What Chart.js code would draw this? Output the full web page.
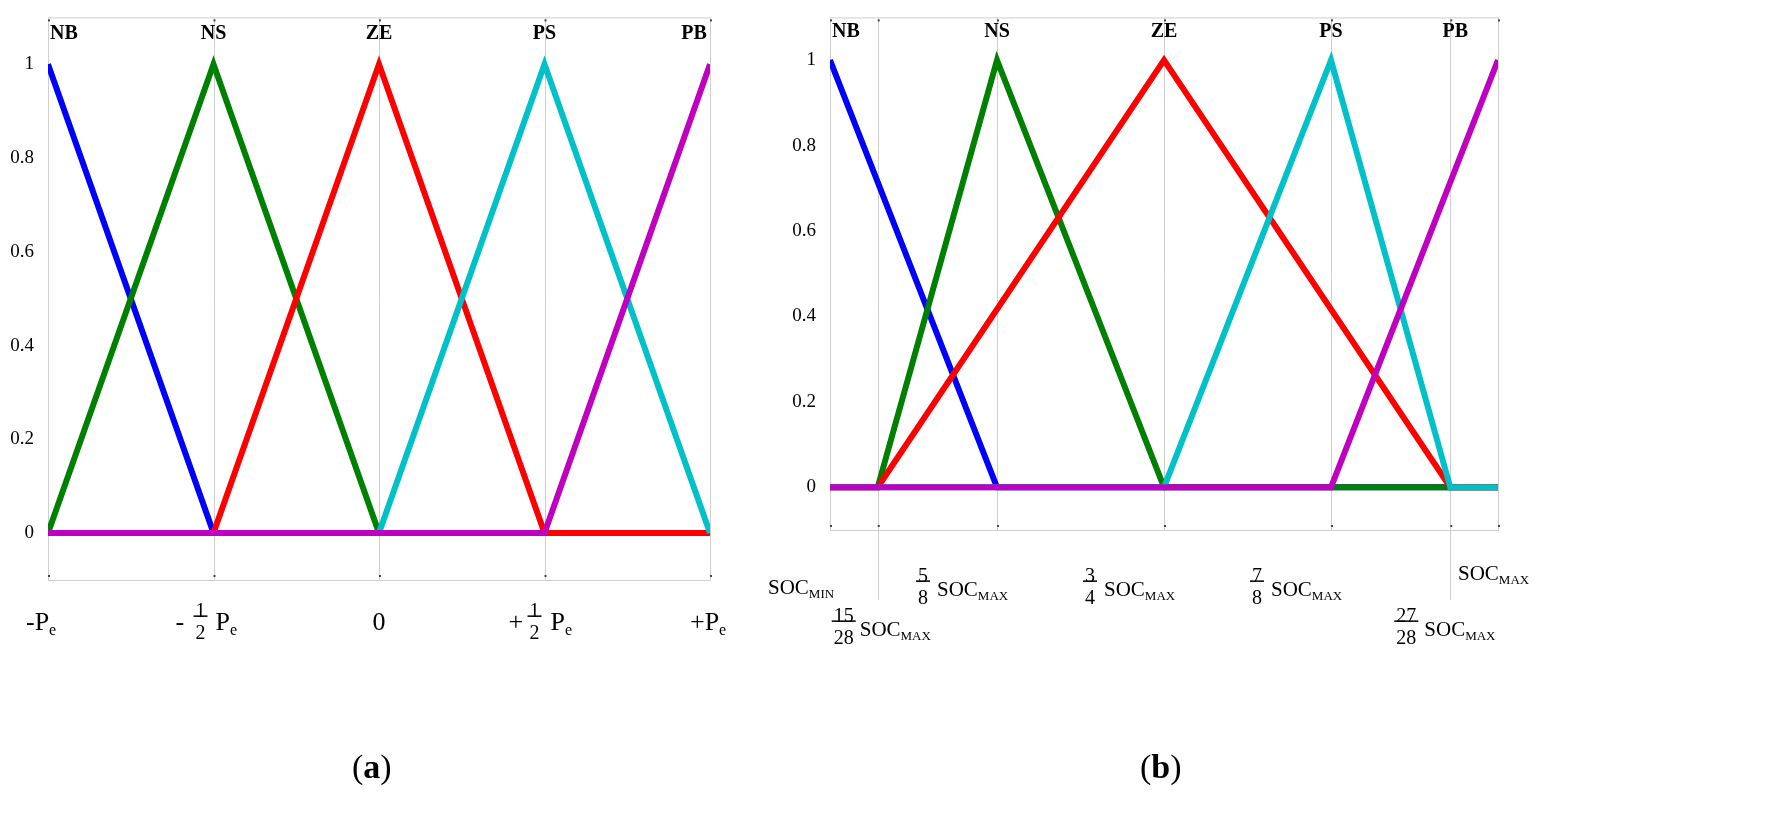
<!DOCTYPE html>
<html>
<head>
<meta charset="utf-8">
<script src="https://cdn.jsdelivr.net/npm/chart.js@4/dist/chart.umd.min.js"></script>
<style>
  body { margin: 0; background: #fff; width: 1787px; height: 819px; position: relative; overflow: hidden; }
  .box { position: absolute; top: 0; height: 819px; }
  .cap { position: absolute; top: 748px; font: 34px "Liberation Serif", serif; }
</style>
</head>
<body>
<div class="box" style="left:0;width:760px"><canvas id="ca"></canvas></div>
<div class="box" style="left:760px;width:790px"><canvas id="cb"></canvas></div>
<div class="cap" style="left:352px">(<b>a</b>)</div>
<div class="cap" style="left:1140px">(<b>b</b>)</div>
<script>
// ---- chart (a) data ----
const namesA = ['NB', 'NS', 'ZE', 'PS', 'PB'];
const colors = ['#0000ff', '#008000', '#ff0000', '#00c0c8', '#bf00bf'];
const ticksA = [-1, -0.5, 0, 0.5, 1];
const nbA = [[-1, 1], [-0.5, 0], [1, 0]];
const nsA = [[-1, 0], [-0.5, 1], [0, 0], [1, 0]];
const zeA = [[-1, 0], [-0.5, 0], [0, 1], [0.5, 0], [1, 0]];
const psA = [[-1, 0], [0, 0], [0.5, 1], [1, 0]];
const pbA = [[-1, 0], [0.5, 0], [1, 1]];

// ---- chart (b) data ----
const ticksB = [0.5, 15 / 28, 5 / 8, 3 / 4, 7 / 8, 27 / 28, 1];
const nbB = [[0.5, 1], [5 / 8, 0], [1, 0]];
const nsB = [[0.5, 0], [15 / 28, 0], [5 / 8, 1], [3 / 4, 0], [1, 0]];
const zeB = [[0.5, 0], [15 / 28, 0], [3 / 4, 1], [27 / 28, 0], [1, 0]];
const psB = [[0.5, 0], [3 / 4, 0], [7 / 8, 1], [27 / 28, 0], [1, 0]];
const pbB = [[0.5, 0], [7 / 8, 0], [1, 1]];
const labelXB = [0.5, 5 / 8, 3 / 4, 7 / 8, 0.98];

const serif = '"Liberation Serif", "Times New Roman", serif';

function toPts(arr) { return arr.map(p => ({ x: p[0], y: p[1] })); }

function sub(ctx, x, y, main, s, size) {
  ctx.textAlign = 'left';
  ctx.font = size + 'px ' + serif;
  ctx.fillText(main, x, y);
  const w = ctx.measureText(main).width;
  ctx.font = Math.round(size * 0.62) + 'px ' + serif;
  ctx.fillText(s, x + w, y + size * 0.3);
  return w + ctx.measureText(s).width;
}
function frac(ctx, cx, y, n, d, size) {
  ctx.font = size + 'px ' + serif;
  ctx.textAlign = 'center';
  ctx.fillText(n, cx, y - size * 0.55);
  ctx.fillText(d, cx, y + size * 0.55);
  const w = Math.max(ctx.measureText(n).width, ctx.measureText(d).width);
  ctx.fillRect(cx - w / 2 - 2, y - size * 0.38, w + 4, 1.5);
  return w;
}

const framePlugin = {
  id: 'frame',
  beforeDatasetsDraw(chart, args, opts) {
    const { ctx, chartArea: a, scales: { x } } = chart;
    ctx.save();
    ctx.strokeStyle = '#cfcfcf';
    ctx.lineWidth = 1;
    opts.grid.forEach(v => {
      const px = Math.round(x.getPixelForValue(v)) + 0.5;
      ctx.beginPath(); ctx.moveTo(px, a.top); ctx.lineTo(px, opts.longGrid.includes(v) ? a.bottom + 70 : a.bottom); ctx.stroke();
    });
    ctx.strokeRect(a.left + 0.5, a.top + 0.5, a.right - a.left, a.bottom - a.top);
    ctx.fillStyle = '#444';
    opts.ticks.forEach(v => {
      const px = x.getPixelForValue(v);
      ctx.fillRect(px, a.top + 2, 2, 2);
      ctx.fillRect(px, a.bottom - 5, 2, 2);
    });
    ctx.restore();
  },
  afterDraw(chart, args, opts) {
    const { ctx, chartArea: a, scales: { x, y } } = chart;
    ctx.save();
    ctx.fillStyle = '#000';
    ctx.textBaseline = 'middle';
    ctx.font = 'bold 20px ' + serif;
    ctx.textAlign = 'center';
    opts.names.forEach((n, i) => {
      let px = x.getPixelForValue(opts.nameX[i]);
      if (i === 0) px += 16;
      if (i === 4) px -= 16;
      ctx.fillText(n, px, y.getPixelForValue(1.066));
    });
    opts.drawTicks(ctx, x, a);
    ctx.restore();
  }
};

function makeChart(id, sets, xmin, xmax, grid, longGrid, ticks, nameX, padRight, padBottom, yWidth, drawTicks) {
  // first series listed last so the later ones (purple) sit on top
  const ds = sets.map((s, i) => ({
    data: toPts(s), borderColor: colors[i], borderWidth: 6,
    pointRadius: 0, tension: 0, fill: false
  })).reverse();
  new Chart(document.getElementById(id), {
    type: 'line',
    data: { datasets: ds },
    options: {
      responsive: false, animation: false,
      layout: { padding: { top: 10, left: 0, right: padRight, bottom: padBottom } },
      plugins: {
        legend: { display: false }, tooltip: { enabled: false },
        frame: { grid, longGrid, ticks, names: namesA, nameX, drawTicks }
      },
      scales: {
        x: { type: 'linear', min: xmin, max: xmax, display: false },
        y: {
          min: -0.1, max: 1.1,
          afterFit: s => { s.width = yWidth; },
          afterBuildTicks: s => { s.ticks = [0, 0.2, 0.4, 0.6, 0.8, 1].map(v => ({ value: v })); },
          grid: { display: false }, border: { display: false },
          ticks: { color: '#000', padding: 6, font: { family: serif, size: 19 }, callback: v => String(+v.toFixed(1)) }
        }
      }
    },
    plugins: [framePlugin]
  });
}

document.getElementById('ca').width = 760; document.getElementById('ca').height = 819;
document.getElementById('cb').width = 790; document.getElementById('cb').height = 819;

makeChart('ca', [nbA, nsA, zeA, psA, pbA], -1, 1, [-0.5, 0, 0.5], [], ticksA, ticksA, 50, 239, 48,
  (ctx, x, a) => {
    const yy = a.bottom + 43, sz = 26;
    const p = v => x.getPixelForValue(v);
    sub(ctx, p(-1) - 22, yy, '-P', 'e', sz);
    ctx.font = sz + 'px ' + serif; ctx.textAlign = 'left';
    ctx.fillText('-', p(-0.5) - 38, yy);
    frac(ctx, p(-0.5) - 13, yy, '1', '2', 20);
    sub(ctx, p(-0.5) + 2, yy, 'P', 'e', sz);
    ctx.font = sz + 'px ' + serif; ctx.textAlign = 'center';
    ctx.fillText('0', p(0), yy);
    ctx.textAlign = 'left';
    ctx.fillText('+', p(0.5) - 36, yy);
    frac(ctx, p(0.5) - 10, yy, '1', '2', 20);
    sub(ctx, p(0.5) + 6, yy, 'P', 'e', sz);
    sub(ctx, p(1) - 20, yy, '+P', 'e', sz);
  });

makeChart('cb', [nbB, nsB, zeB, psB, pbB], 0.5, 1, [15 / 28, 5 / 8, 3 / 4, 7 / 8, 27 / 28], [15 / 28, 27 / 28], ticksB, labelXB, 52, 289, 70,
  (ctx, x, a) => {
    const p = v => x.getPixelForValue(v);
    const y1 = a.bottom + 58, y2 = a.bottom + 98, sz = 21;
    sub(ctx, p(0.5) - 62, y1, 'SOC', 'MIN', sz);
    frac(ctx, p(15 / 28) - 34, y2, '15', '28', 20);
    sub(ctx, p(15 / 28) - 18, y2 + 2, 'SOC', 'MAX', sz);
    [[5 / 8, '5', '8'], [3 / 4, '3', '4'], [7 / 8, '7', '8']].forEach(t => {
      frac(ctx, p(t[0]) - 74, y1, t[1], t[2], 20);
      sub(ctx, p(t[0]) - 60, y1 + 2, 'SOC', 'MAX', sz);
    });
    frac(ctx, p(27 / 28) - 44, y2, '27', '28', 20);
    sub(ctx, p(27 / 28) - 26, y2 + 2, 'SOC', 'MAX', sz);
    sub(ctx, p(1) - 40, y1 - 14, 'SOC', 'MAX', sz);
  });
</script>
</body>
</html>
